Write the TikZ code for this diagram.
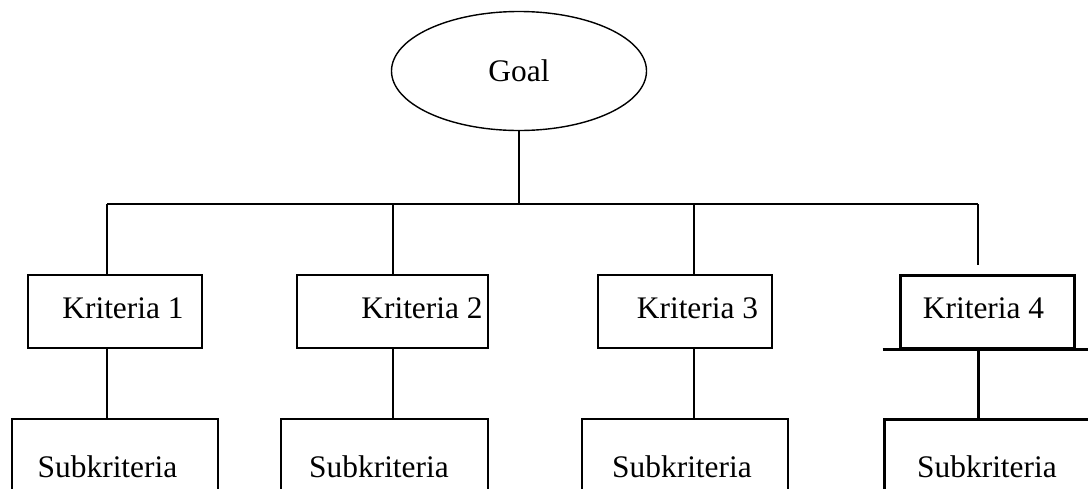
\documentclass[tikz,border=0pt]{standalone}
\usepackage{fontspec}
\setmainfont{Liberation Serif}
\usetikzlibrary{positioning, shapes.geometric}

\begin{document}
\begin{tikzpicture}[x=0.5pt, y=-0.5pt, line width=0.7pt,
    every node/.style={font=\fontsize{15.7}{19}\selectfont},
    kbox/.style={rectangle, draw, minimum height=36.5pt, inner sep=0pt},
    subbox/.style={rectangle, draw, minimum height=48pt, inner sep=0pt},
    heavy/.style={line width=1.5pt}]
        \clip (0,0) rectangle (1088,488);
        % nodes
        \node[ellipse, draw, minimum width=127.5pt, minimum height=59.5pt, inner sep=0pt] (goal) at (519,71) {Goal};

        \node[kbox, minimum width=87pt, label={[xshift=4pt, yshift=1.5pt]center:Kriteria 1}] (k1) at (115,311.5) {};
        \node[kbox, minimum width=95.5pt, label={[xshift=14.75pt, yshift=1.5pt]center:Kriteria 2}] (k2) at (392.5,311.5) {};
        \node[kbox, minimum width=87pt, label={[xshift=6.25pt, yshift=1.5pt]center:Kriteria 3}] (k3) at (685,311.5) {};
        \node[kbox, heavy, minimum width=87pt, label={[xshift=-1.75pt, yshift=1.5pt]center:Kriteria 4}] (k4) at (987,311.5) {};

        \node[subbox, minimum width=103pt, label={[xshift=-3.75pt]center:Subkriteria}] (s1) at (115,467) {};
        \node[subbox, minimum width=103.5pt, label={[xshift=-2.75pt]center:Subkriteria}] (s2) at (384.5,467) {};
        \node[subbox, minimum width=103pt, label={[xshift=-1.5pt]center:Subkriteria}] (s3) at (685,467) {};
        \node[subbox, heavy, minimum width=103pt, label={center:Subkriteria}] (s4) at (987,467) {};

        \coordinate (d1) at (107,204);
        \coordinate (d2) at (393,204);
        \coordinate (d3) at (694,204);
        \coordinate (d4) at (978,204);
        \coordinate (k4in) at (978,265);

        % connections
        \draw (goal.south) -- (goal.south |- d1);
        \draw (d1) -- (d4);
        \draw (d1) -- (d1 |- k1.north);
        \draw (d2) -- (d2 |- k2.north);
        \draw (d3) -- (d3 |- k3.north);
        \draw (d4) -- (k4in);

        \draw (k1.south -| d1) -- (d1 |- s1.north);
        \draw (k2.south -| d2) -- (d2 |- s2.north);
        \draw (k3.south -| d3) -- (d3 |- s3.north);
        \draw[heavy] ([xshift=-8pt]k4.south west) -- ([xshift=9pt]k4.south east);
        \draw[heavy] (k4.south -| d4) -- (d4 |- s4.north);
      \end{tikzpicture}
\end{document}
